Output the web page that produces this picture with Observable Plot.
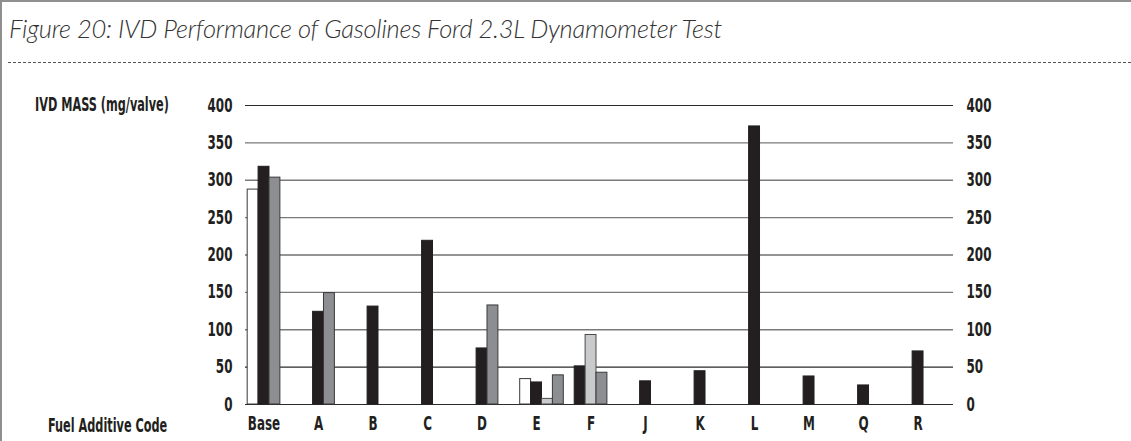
<!DOCTYPE html>
<html>
<head>
<meta charset="utf-8">
<script src="https://cdn.jsdelivr.net/npm/d3@7"></script>
<script src="https://cdn.jsdelivr.net/npm/@observablehq/plot@0.6"></script>
<style>
  html, body { margin: 0; padding: 0; background: #fff; }
  #wrap { position: relative; width: 1131px; height: 441px; overflow: hidden; background: #fff; }
  #frame { position: absolute; left: 0; top: 0; width: 1131px; height: 441px; box-sizing: border-box;
           border-left: 2px solid #8f8f8f; border-top: 2px solid #8f8f8f; }
  #title { position: absolute; left: 9px; top: 13px; font-family: Lato, "Open Sans", sans-serif; font-style: italic;
           font-weight: 300; font-size: 25.5px; color: #333; white-space: nowrap; letter-spacing: -0.25px; }
  #dash { position: absolute; left: 8px; right: 0; top: 62px; border-top: 1px dashed #555; }
  .lab { position: absolute; font-family: "DejaVu Sans Condensed", "DejaVu Sans", sans-serif;
         font-stretch: condensed; font-weight: bold; font-size: 19px; color: #231f20; white-space: nowrap;
         transform-origin: 0 0; transform: scaleX(0.66); }
  #chart { position: absolute; left: 0; top: 0; }
</style>
</head>
<body>
<div id="wrap">
  <div id="frame"></div>
  <div id="title">Figure 20: IVD Performance of Gasolines Ford 2.3L Dynamometer Test</div>
  <div id="dash"></div>
  <div class="lab" style="left:35px; top:93px;">IVD MASS (mg/valve)</div>
  <div class="lab" style="left:48px; top:414px;">Fuel Additive Code</div>
  <div id="chart"></div>
</div>
<script>
// Fuel additive codes (categories)
const categories = ["Base", "A", "B", "C", "D", "E", "F", "J", "K", "L", "M", "Q", "R"];
// Four test series (null = not tested)
const seriesNames = ["Series 1", "Series 2", "Series 3", "Series 4"];
const series1 = [287.5, null, null, null, null, 34, null, null, null, null, null, null, null];
const series2 = [318, 124, 131, 219, 75, 29.5, 51, 31, 44.5, 372, 37.5, 25.5, 71];
const series3 = [null, null, null, null, null, 7.5, 93, null, null, null, null, null, null];
const series4 = [303.5, 149, null, null, 132.5, 39, 42.5, null, null, null, null, null, null];
const yTicks = [0, 50, 100, 150, 200, 250, 300, 350, 400];

const fills = {"Series 1": "#ffffff", "Series 2": "#231f20", "Series 3": "#c9cacc", "Series 4": "#8d8e91"};
const strokes = {"Series 1": "#3a3a3a", "Series 2": "#231f20", "Series 3": "#4a4a4a", "Series 4": "#3a3a3a"};

const allSeries = [series1, series2, series3, series4];
const rows = [];
categories.forEach((c, i) => {
  const present = [];
  allSeries.forEach((s, k) => { if (s[i] != null) present.push({series: seriesNames[k], value: s[i]}); });
  const mid = Math.floor((present.length - 1) / 2);
  present.forEach((p, j) => rows.push({category: c, i, series: p.series, value: p.value, slot: j - mid}));
});

const W = 0.2; // slot width in category units
const font = `"DejaVu Sans Condensed", "DejaVu Sans", sans-serif`;

const chart = Plot.plot({
  width: 1131,
  height: 441,
  marginLeft: 245,
  marginRight: 178,
  marginTop: 105,
  marginBottom: 37,
  style: {fontFamily: font, fontStretch: "condensed", fontSize: "19px", fontWeight: "bold", color: "#231f20", background: "transparent", overflow: "visible"},
  x: {type: "linear", domain: [-0.34, 12.65]},
  y: {domain: [0, 400]},
  marks: [
    Plot.ruleY(yTicks.filter(t => [0, 50, 200, 400].indexOf(t) < 0), {stroke: "#7a7a7a", strokeWidth: 1.4}),
    Plot.ruleY([0, 50, 200, 400], {stroke: "#2a2a2a", strokeWidth: 1.1}),
    Plot.rectY(rows, {
      x1: d => d.i + (d.slot - 0.5) * W,
      x2: d => d.i + (d.slot + 0.5) * W,
      y1: 0,
      y2: "value",
      fill: d => fills[d.series],
      stroke: d => strokes[d.series],
      strokeWidth: 1,
      inset: 0
    }),
    Plot.axisY({anchor: "left", ticks: yTicks, tickSize: 0, tickPadding: 13, label: null}),
    Plot.axisY({anchor: "right", ticks: yTicks, tickSize: 0, tickPadding: 13, label: null}),
    Plot.axisX({anchor: "bottom", ticks: d3.range(categories.length), tickFormat: i => categories[i], tickSize: 0, tickPadding: 12, label: null})
  ]
});
// condense tick label glyphs horizontally about their anchor point
chart.querySelectorAll('g[aria-label$="tick label"] text').forEach(t => {
  const x = +t.getAttribute("x") || 0;
  const prev = t.getAttribute("transform") || "";
  t.setAttribute("transform", `${prev} translate(${x},0) scale(0.7,1) translate(${-x},0)`);
});
document.getElementById("chart").appendChild(chart);
</script>
</body>
</html>
